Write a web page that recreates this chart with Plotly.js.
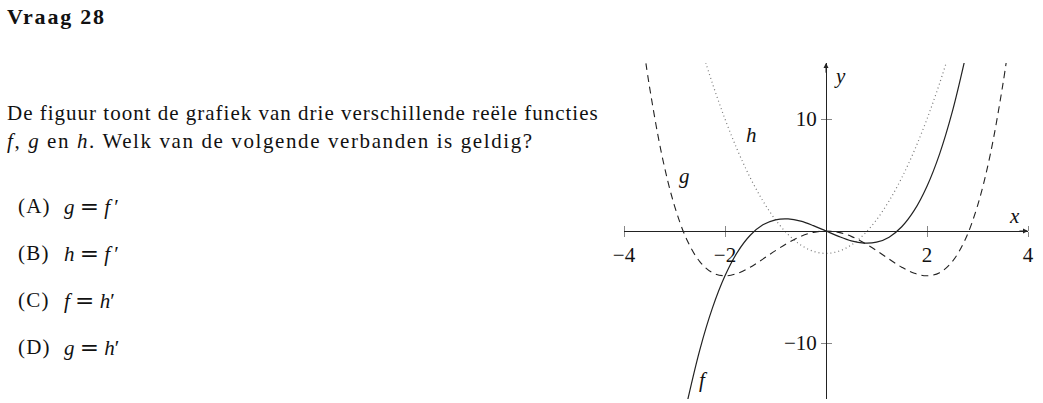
<!DOCTYPE html>
<html><head><meta charset="utf-8">
<script src="https://cdn.plot.ly/plotly-3.0.1.min.js"></script>
<style>html,body{margin:0;padding:0;background:#fff;}#chart{width:1043px;height:403px;}</style>
</head><body><div id="chart"></div>
<script>
// f (solid)
const fX = [-2.75,-2.5,-2.25,-2,-1.75,-1.5,-1.25,-1,-0.75,-0.5,-0.25,0,0.25,0.5,0.75,1,1.25,1.5,1.75,2,2.25,2.5,2.75];
const fY = [-15.3,-10.63,-6.89,-4,-1.86,-0.38,0.55,1,1.08,0.88,0.48,0,-0.48,-0.88,-1.08,-1,-0.55,0.38,1.86,4,6.89,10.63,15.3];
// g (dashed)
const gX = [-3.6,-3.5,-3.25,-3,-2.75,-2.5,-2.25,-2,-1.75,-1.5,-1.25,-1,-0.75,-0.5,-0.25,0,0.25,0.5,0.75,1,1.25,1.5,1.75,2,2.25,2.5,2.75,3,3.25,3.5,3.6];
const gY = [16.07,13.02,6.77,2.25,-0.83,-2.73,-3.72,-4,-3.78,-3.23,-2.51,-1.75,-1.05,-0.48,-0.12,0,-0.12,-0.48,-1.05,-1.75,-2.51,-3.23,-3.78,-4,-3.72,-2.73,-0.83,2.25,6.77,13.02,16.07];
// h (dotted)
const hX = [-2.5,-2.25,-2,-1.75,-1.5,-1.25,-1,-0.75,-0.5,-0.25,0,0.25,0.5,0.75,1,1.25,1.5,1.75,2,2.25,2.5];
const hY = [16.75,13.19,10,7.19,4.75,2.69,1,-0.31,-1.25,-1.81,-2,-1.81,-1.25,-0.31,1,2.69,4.75,7.19,10,13.19,16.75];

const xTickVals = [-4,-2,2,4];
const xTickText = ['\u22124','\u22122','2','4'];
const yTickVals = [-10,10];
const yTickText = ['\u221210','10'];

const W = 1043, H = 403;
const M = {l:624, r:15, t:63, b:4};
const px = x => (x - M.l) / (W - M.l - M.r);
const py = y => (H - M.b - y) / (H - M.t - M.b);

const serif = 'Liberation Serif, Times New Roman, serif';
const ink = '#111';

const traces = [
  {x:hX, y:hY, mode:'lines', line:{color:'#777', width:1.2, dash:'1px,3px', shape:'spline'}, hoverinfo:'skip'},
  {x:gX, y:gY, mode:'lines', line:{color:'#222', width:1.1, dash:'7px,5px', shape:'spline'}, hoverinfo:'skip'},
  {x:fX, y:fY, mode:'lines', line:{color:'#222', width:1.2, shape:'spline'}, hoverinfo:'skip'}
];

const sp = (txt, ls) => '<span style="letter-spacing:' + ls + 'px">' + txt + '</span>';
const EQ = '\u00a0<span style="font-family:DejaVu Serif;font-size:23px">=</span>\u00a0';

const textAnn = (txt, x, y, size) => ({
  text: txt, xref:'paper', yref:'paper', x: px(x), y: py(y),
  xanchor:'left', yanchor:'middle', showarrow:false,
  font:{family:serif, size:size, color:ink}
});

const dataAnn = (txt, x, y) => ({
  text: txt, xref:'x', yref:'y', x:x, y:y, showarrow:false,
  xanchor:'center', yanchor:'middle',
  font:{family:serif, size:21, color:ink}
});

const annotations = [
  textAnn(sp('<b>Vraag 28</b>', 1.8), 5, 16.5, 22),
  textAnn(sp('De figuur toont de grafiek van drie verschillende reële functies', 1.0), 5, 112.5, 21),
  textAnn(sp('<i>f</i>, <i>g</i> en <i>h</i>. Welk van de volgende verbanden is geldig?', 1.6), 5, 140.5, 21),
  textAnn(sp('(A)', 1.2), 16, 206, 21), textAnn('<i>g</i>' + EQ + '<i>f</i>\u2009\u2032', 62, 206, 21),
  textAnn(sp('(B)', 1.2), 16, 253, 21), textAnn('<i>h</i>' + EQ + '<i>f</i>\u2009\u2032', 62, 253, 21),
  textAnn(sp('(C)', 1.2), 16, 300, 21), textAnn('<i>f</i>' + EQ + '<i>h</i>\u2032', 62, 300, 21),
  textAnn(sp('(D)', 1.2), 16, 347, 21), textAnn('<i>g</i>' + EQ + '<i>h</i>\u2032', 62, 347, 21),
  dataAnn('<i>h</i>', -1.47, 8.6),
  dataAnn('<i>g</i>', -2.81, 4.9),
  dataAnn('<i>f</i>', -2.43, -13.3),
  dataAnn('<i>x</i>', 3.74, 1.35),
  dataAnn('<i>y</i>', 0.27, 13.8),
  {x:4, y:0, ax:3.8, ay:0, axref:'x', ayref:'y', xref:'x', yref:'y', text:'', showarrow:true,
   arrowhead:2, arrowsize:1, arrowwidth:1, arrowcolor:'#222', standoff:0},
  {x:0, y:15, ax:0, ay:14, axref:'x', ayref:'y', xref:'x', yref:'y', text:'', showarrow:true,
   arrowhead:2, arrowsize:1, arrowwidth:1, arrowcolor:'#222', standoff:0}
];

const layout = {
  width: W, height: H, margin: M,
  paper_bgcolor:'#fff', plot_bgcolor:'#fff', showlegend:false,
  xaxis: {range:[-4,4], anchor:'free', position:0.5, showline:true, linecolor:'#222', linewidth:1,
    zeroline:false, showgrid:false, ticks:'outside', ticklen:5, tickcolor:'#888', tickwidth:1,
    tickmode:'array', tickvals:xTickVals, ticktext:xTickText,
    tickfont:{family:serif, size:21, color:ink},
    minor:{ticks:'inside', ticklen:5, tickcolor:'#888', tickwidth:1, tickmode:'array', tickvals:xTickVals, showgrid:false},
    fixedrange:true},
  yaxis: {range:[-15,15], anchor:'free', position:0.5, showline:true, linecolor:'#222', linewidth:1,
    zeroline:false, showgrid:false, ticks:'outside', ticklen:5, tickcolor:'#888', tickwidth:1,
    tickmode:'array', tickvals:yTickVals, ticktext:yTickText,
    tickfont:{family:serif, size:21, color:ink},
    minor:{ticks:'inside', ticklen:5, tickcolor:'#888', tickwidth:1, tickmode:'array', tickvals:yTickVals, showgrid:false},
    fixedrange:true},
  annotations: annotations
};

Plotly.newPlot('chart', traces, layout, {staticPlot:true, displayModeBar:false});
</script></body></html>
